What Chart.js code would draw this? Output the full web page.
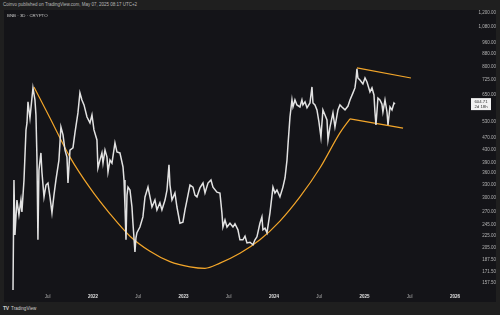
<!DOCTYPE html>
<html>
<head>
<meta charset="utf-8">
<script src="https://cdn.jsdelivr.net/npm/chart.js@4"></script>
<style>
  body { margin: 0; width: 500px; height: 315px; background: #1f1f1f; overflow: hidden; font-family: "Liberation Sans", Arial, sans-serif; }
  #header { position: absolute; left: 3px; top: 2px; font-size: 4.5px; color: #b8b8b8; }
  #panel { position: absolute; left: 4px; top: 10px; width: 492px; height: 292px; background: #141418; }
  #symbol { position: absolute; left: 3px; top: 3px; font-size: 4.4px; color: #c8c8c8; }
  #footer { position: absolute; left: 3px; top: 305px; font-size: 4.6px; color: #cfcfcf; }
  #footer b { font-size: 5px; letter-spacing: -0.3px; margin-right: 1px; }
</style>
</head>
<body>
<div id="header">Coinvo published on TradingView.com, May 07, 2025 08:17 UTC+2</div>
<div id="panel">
  <canvas id="chart" width="492" height="292"></canvas>
  <div id="symbol">BNB · 3D · CRYPTO</div>
</div>
<div id="footer"><b>TV</b> TradingView</div>
<script>
// BNB 3D closes (decimal year, USD)
const dates = [
  2021.116, 2021.127, 2021.138, 2021.160, 2021.182, 2021.204, 2021.215, 2021.238, 2021.260, 2021.271,
  2021.282, 2021.304, 2021.326, 2021.337, 2021.359, 2021.370, 2021.381, 2021.392, 2021.403, 2021.425,
  2021.436, 2021.459, 2021.481, 2021.503, 2021.525, 2021.547, 2021.569, 2021.591, 2021.624, 2021.646,
  2021.669, 2021.691, 2021.713, 2021.724, 2021.746, 2021.779, 2021.801, 2021.834, 2021.856, 2021.878,
  2021.901, 2021.934, 2021.967, 2021.989, 2022.011, 2022.044, 2022.055, 2022.077, 2022.099, 2022.111,
  2022.133, 2022.155, 2022.166, 2022.188, 2022.210, 2022.243, 2022.265, 2022.298, 2022.332, 2022.343,
  2022.354, 2022.365, 2022.376, 2022.387, 2022.409, 2022.431, 2022.442, 2022.464, 2022.475, 2022.486,
  2022.519, 2022.552, 2022.575, 2022.608, 2022.630, 2022.652, 2022.685, 2022.707, 2022.740, 2022.762,
  2022.796, 2022.818, 2022.840, 2022.851, 2022.873, 2022.906, 2022.928, 2022.961, 2022.994, 2023.017,
  2023.039, 2023.072, 2023.105, 2023.127, 2023.149, 2023.182, 2023.216, 2023.238, 2023.271, 2023.304,
  2023.326, 2023.370, 2023.403, 2023.425, 2023.436, 2023.459, 2023.481, 2023.514, 2023.547, 2023.569,
  2023.602, 2023.624, 2023.657, 2023.680, 2023.702, 2023.735, 2023.768, 2023.790, 2023.812, 2023.845,
  2023.867, 2023.878, 2023.901, 2023.923, 2023.956, 2023.989, 2024.011, 2024.033, 2024.066, 2024.099,
  2024.122, 2024.144, 2024.155, 2024.177, 2024.199, 2024.210, 2024.232, 2024.254, 2024.287, 2024.309,
  2024.320, 2024.343, 2024.365, 2024.398, 2024.420, 2024.431, 2024.453, 2024.475, 2024.497, 2024.519,
  2024.541, 2024.564, 2024.586, 2024.597, 2024.619, 2024.652, 2024.674, 2024.707, 2024.729, 2024.751,
  2024.785, 2024.818, 2024.840, 2024.873, 2024.895, 2024.906, 2024.917, 2024.928, 2024.950, 2024.983,
  2025.006, 2025.028, 2025.061, 2025.083, 2025.105, 2025.116, 2025.127, 2025.149, 2025.171, 2025.193,
  2025.204, 2025.227, 2025.249, 2025.260, 2025.282, 2025.304, 2025.326, 2025.337
];
const prices = [
  143, 342, 226, 294, 263, 294, 269, 342, 498, 525,
  615, 545, 633, 683, 624, 557, 406, 218, 368, 419,
  363, 301, 329, 334, 301, 267, 305, 342, 397, 509,
  480, 428, 406, 334, 428, 435, 487, 566, 658, 624,
  601, 549, 525, 557, 498, 462, 374, 397, 419, 388,
  428, 406, 363, 397, 388, 452, 422, 419, 377, 342,
  279, 218, 305, 324, 317, 279, 247, 199, 221, 230,
  240, 259, 301, 324, 301, 279, 294, 273, 288, 273,
  294, 317, 383, 329, 294, 310, 279, 247, 249, 273,
  294, 329, 324, 305, 301, 322, 334, 310, 334, 342,
  324, 312, 310, 267, 240, 253, 240, 247, 240, 246,
  235, 218, 218, 224, 213, 214, 210, 218, 223, 247,
  259, 235, 238, 230, 267, 324, 310, 317, 301, 324,
  347, 397, 445, 549, 624, 592, 624, 601, 592, 624,
  601, 615, 588, 610, 688, 610, 601, 579, 529, 472,
  579, 557, 537, 462, 509, 566, 509, 579, 601, 592,
  579, 596, 624, 658, 683, 725, 788, 736, 725, 704,
  736, 714, 663, 683, 648, 570, 517, 633, 624, 605,
  570, 624, 570, 517, 592, 579, 610, 604.71
];

// drawn cup and flag lines
const cupDates = [2021.348, 2021.525, 2021.746, 2021.967, 2022.188, 2022.409, 2022.630, 2022.851, 2023.072,
  2023.238, 2023.403, 2023.624, 2023.845, 2024.066, 2024.287, 2024.508, 2024.729, 2024.840];
const cupPrices = [688, 545, 406, 322, 265, 224, 200, 185, 178, 176, 183, 197, 218, 251, 301, 374, 487, 541];
const flagLowDates = [2024.840, 2025.426];
const flagLowPrices = [541, 505];
const flagHighDates = [2024.917, 2025.514];
const flagHighPrices = [794, 736];

const yTicks = [157.5, 171.5, 187.5, 205, 225, 245, 270, 300, 330, 360, 390, 430, 470, 530, 650, 725, 800, 880, 960, 1080, 1200];
const xTicks = [2021.5, 2022, 2022.5, 2023, 2023.5, 2024, 2024.5, 2025, 2025.5, 2026];

const lastPrice = prices[prices.length - 1];
const countdown = "2d 18h";

function toPoints(xs, ys) {
  return xs.map((x, i) => ({ x: x, y: ys[i] }));
}

function isYear(ctx) {
  return !!ctx.tick && ctx.tick.value % 1 === 0;
}

const orange = "#f3a62a";

const priceLabel = {
  id: "priceLabel",
  afterDraw(chart) {
    const c = chart.ctx;
    const y = chart.scales.y.getPixelForValue(lastPrice);
    c.save();
    c.fillStyle = "#f2f2f2";
    c.fillRect(467, y - 6, 20, 12);
    c.fillStyle = "#333";
    c.font = "4.3px 'Liberation Sans', Arial";
    c.textAlign = "center";
    c.textBaseline = "middle";
    c.fillText(lastPrice.toFixed(2), 477, y - 2.5);
    c.fillText(countdown, 477, y + 2.5);
    c.restore();
  }
};

new Chart(document.getElementById("chart"), {
  type: "line",
  data: {
    datasets: [
      {
        data: toPoints(dates, prices),
        borderColor: "#e2e2e2",
        borderWidth: 1.5,
        pointRadius: 0,
        tension: 0
      },
      {
        data: toPoints(cupDates, cupPrices),
        borderColor: orange,
        borderWidth: 1.2,
        pointRadius: 0,
        cubicInterpolationMode: "monotone"
      },
      {
        data: toPoints(flagLowDates, flagLowPrices),
        borderColor: orange,
        borderWidth: 1.2,
        pointRadius: 0
      },
      {
        data: toPoints(flagHighDates, flagHighPrices),
        borderColor: orange,
        borderWidth: 1.2,
        pointRadius: 0
      }
    ]
  },
  options: {
    responsive: false,
    animation: false,
    parsing: false,
    layout: { padding: 0, autoPadding: false },
    plugins: { legend: { display: false }, tooltip: { enabled: false } },
    scales: {
      x: {
        type: "linear",
        min: 2021.017,
        max: 2026.122,
        grid: { display: false, drawTicks: false },
        border: { display: false },
        afterBuildTicks: (axis) => { axis.ticks = xTicks.map(v => ({ value: v })); },
        afterFit: (axis) => { axis.height = 12; axis.paddingLeft = 0; axis.paddingRight = 0; },
        ticks: {
          padding: 4,
          maxRotation: 0,
          autoSkip: false,
          color: (ctx) => (isYear(ctx) ? "#e0e0e0" : "#b0b0b0"),
          font: (ctx) => ({ size: 4.5, family: "'Liberation Sans', Arial", weight: isYear(ctx) ? "bold" : "normal" }),
          callback: (v) => (v % 1 === 0 ? String(v) : "Jul")
        }
      },
      y: {
        type: "logarithmic",
        position: "right",
        min: 149.5,
        max: 1227,
        grid: { display: false, drawTicks: false },
        border: { display: false },
        afterBuildTicks: (axis) => { axis.ticks = yTicks.map(v => ({ value: v })); },
        afterFit: (axis) => { axis.width = 30; axis.paddingTop = 0; axis.paddingBottom = 0; },
        ticks: {
          padding: 6,
          crossAlign: "far",
          autoSkip: false,
          color: "#b4b4b4",
          font: { size: 4.5, family: "'Liberation Sans', Arial" },
          callback: (v) => Number(v).toLocaleString("en-US", { minimumFractionDigits: 2, maximumFractionDigits: 2 })
        }
      }
    }
  },
  plugins: [priceLabel]
});
</script>
</body>
</html>
